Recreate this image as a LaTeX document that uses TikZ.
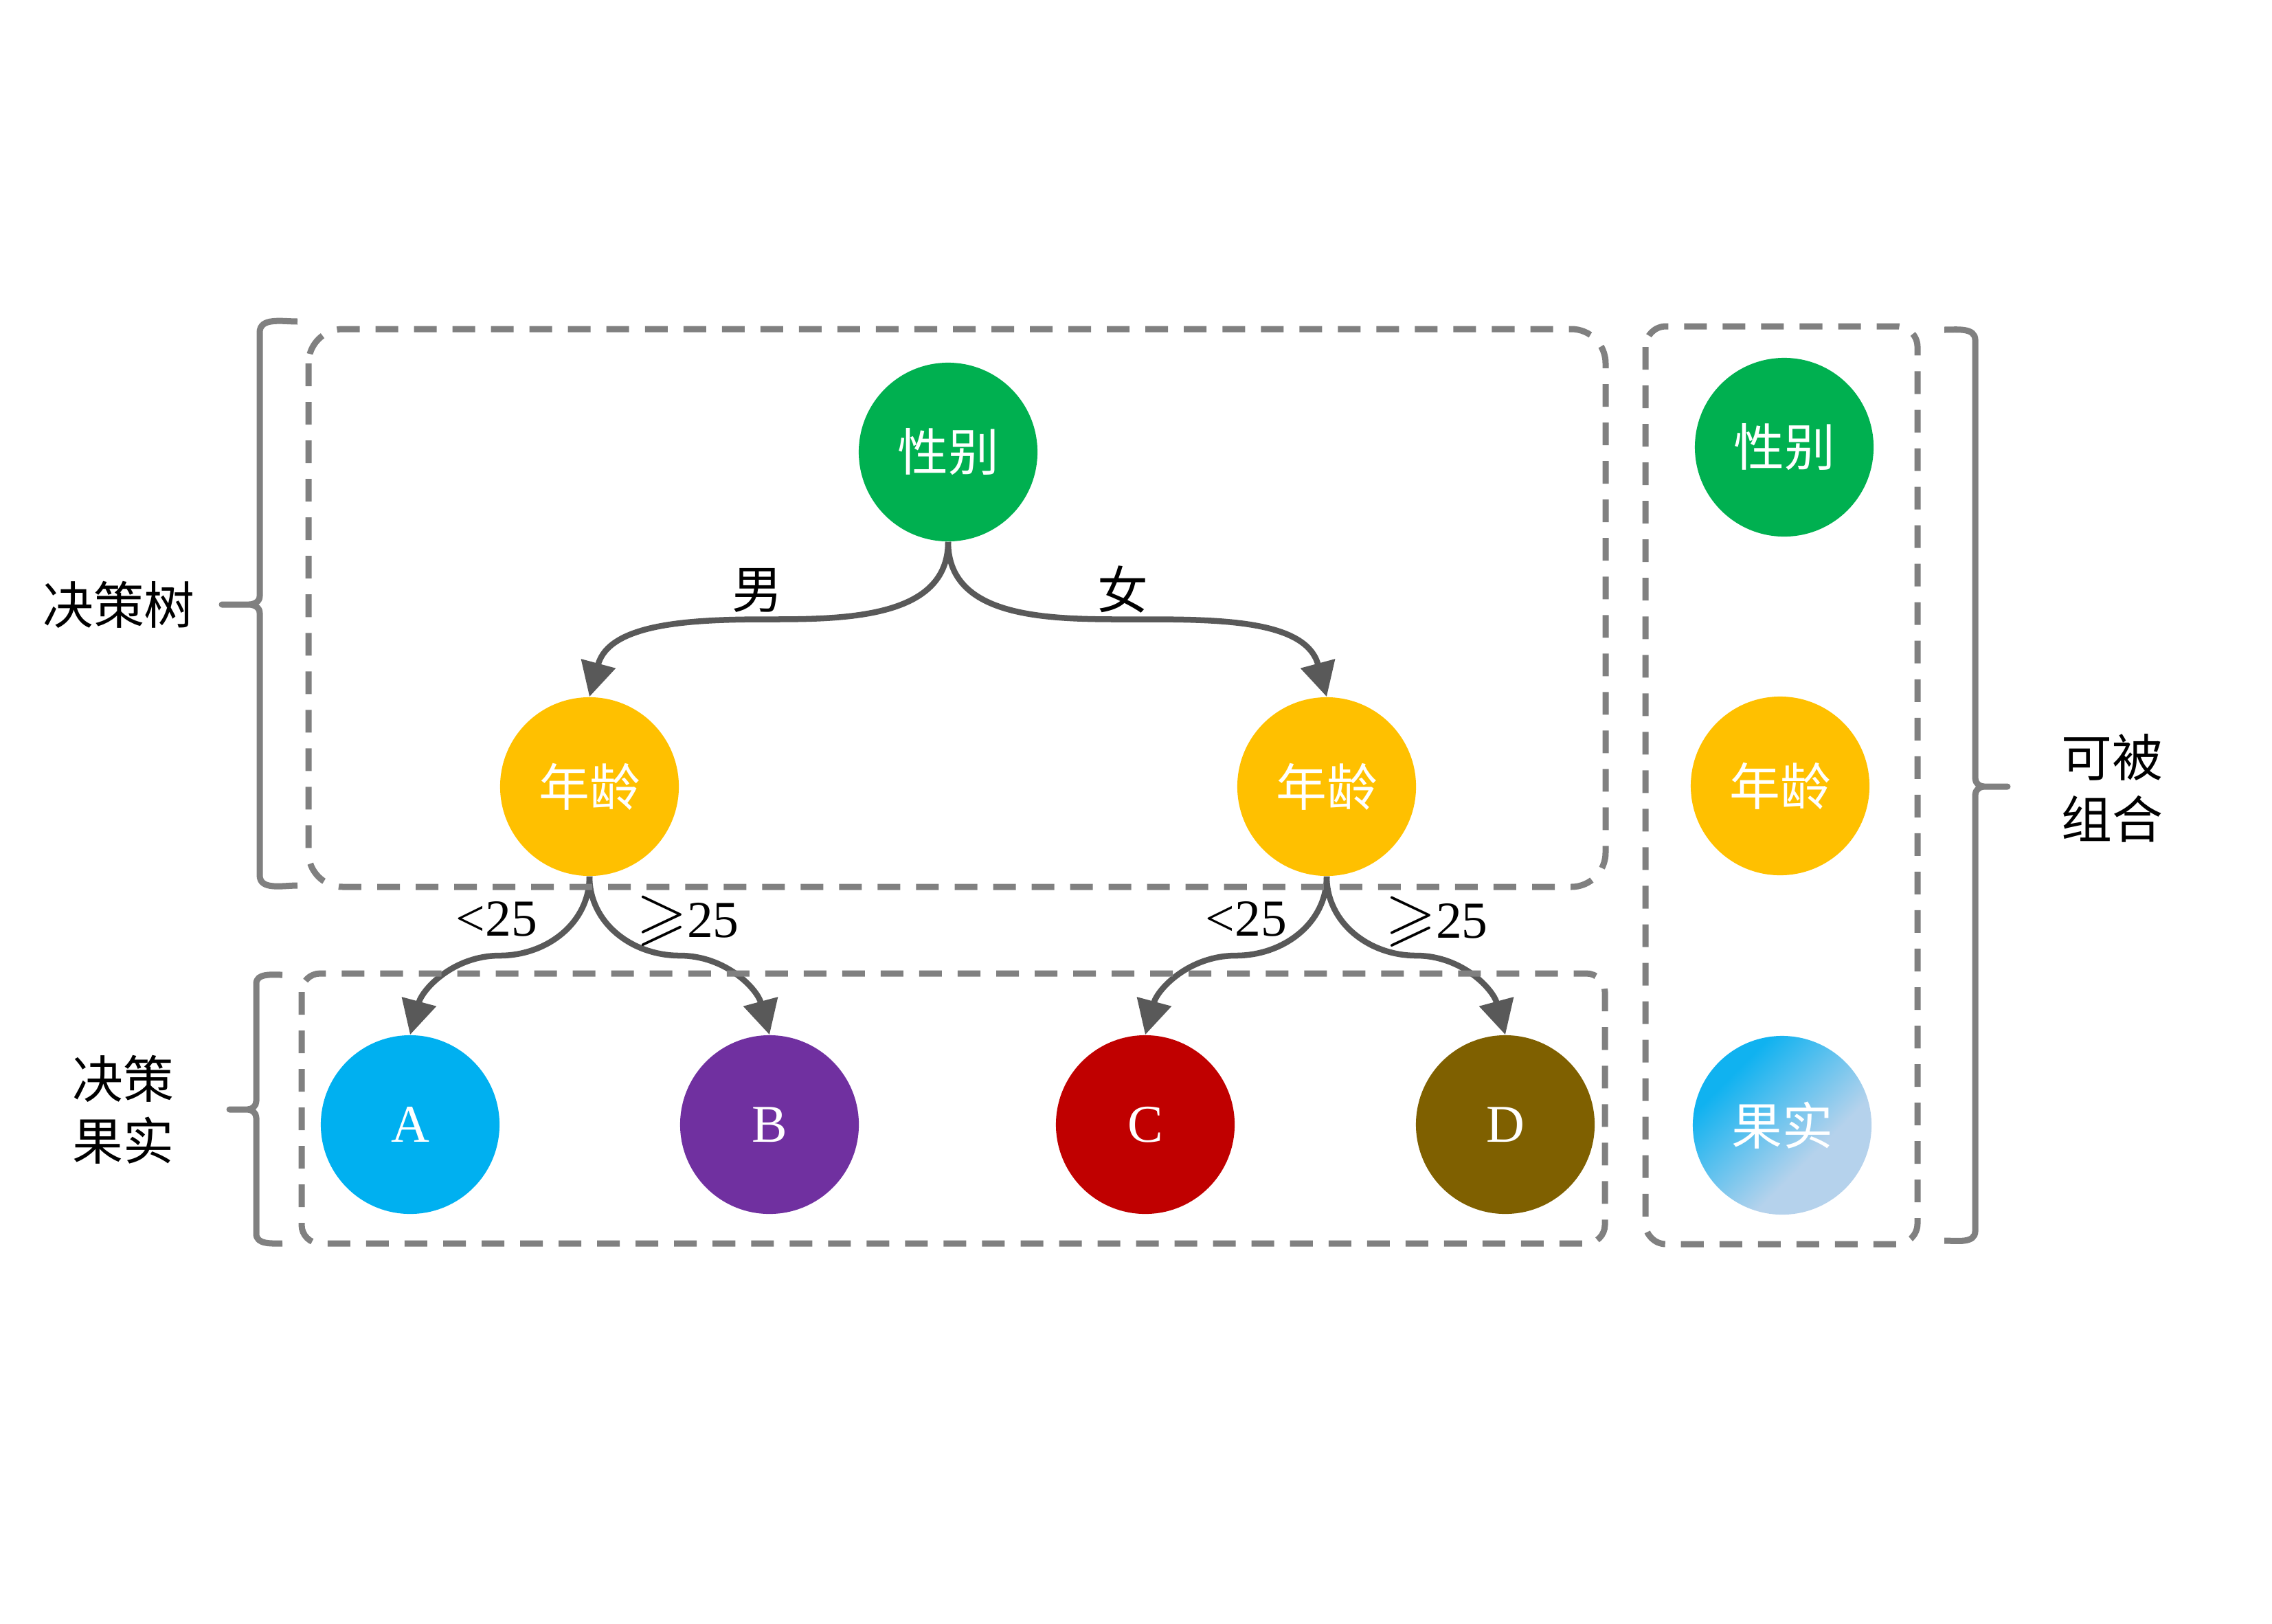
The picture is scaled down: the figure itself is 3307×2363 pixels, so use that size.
\documentclass[tikz,border=0pt]{standalone}
\usepackage{fontspec}
\usepackage{amssymb}
\setmainfont{Liberation Serif}
\newfontfamily\cjk{Noto Sans CJK SC}
\usetikzlibrary{arrows.meta,calc}

\definecolor{cgreen}{HTML}{00B050}
\definecolor{cyellow}{HTML}{FFC000}
\definecolor{ccyan}{HTML}{00B0F0}
\definecolor{cpurple}{HTML}{7030A0}
\definecolor{cred}{HTML}{C00000}
\definecolor{cbrown}{HTML}{7F6000}
\definecolor{cfruitA}{HTML}{10B2F0}
\definecolor{cfruitB}{HTML}{B5D2EC}
\definecolor{cframe}{HTML}{808080}
\definecolor{cedge}{HTML}{595959}

% diagonal fill of the fruit ball: light from the lower right, cyan to the upper left
\pgfdeclareverticalshading{fruitfill}{100bp}{%
  color(0bp)=(cfruitB); color(38bp)=(cfruitB);
  color(70bp)=(cfruitA); color(100bp)=(cfruitA)}

\newcommand{\geqs}{{\fontsize{27pt}{30pt}\selectfont$\geqslant$}}

\begin{document}
\begin{tikzpicture}[x=0.01cm,y=-0.01cm,
  ball/.style={circle,minimum size=2.6cm,inner sep=0pt,text=white,
    font=\cjk\fontsize{21pt}{25pt}\selectfont},
  leaf/.style={circle,minimum size=2.6cm,inner sep=0pt,text=white,
    font=\fontsize{22pt}{26pt}\selectfont},
  arr/.style={draw=cedge,line width=0.085cm,
    -{Triangle[length=0.5cm,width=0.5cm]}},
  dbox/.style={draw=cframe,line width=0.09cm,dash pattern=on 0.33cm off 0.23cm},
  brc/.style={draw=cframe,line width=0.09cm,line join=round},
  cnlabel/.style={inner sep=0pt,font=\cjk\fontsize{21pt}{25.6pt}\selectfont,align=center},
  numlabel/.style={inner sep=0pt,font=\fontsize{21.5pt}{26pt}\selectfont},
]
\useasboundingbox (0,0) rectangle (3307,2363);

% decision tree
\node[ball,fill=cgreen]  (sex)  at (1380,658)  {性别};
\node[ball,fill=cyellow] (ageL) at (858,1145)  {年龄};
\node[ball,fill=cyellow] (ageR) at (1931,1145) {年龄};

% leaves
\node[leaf,fill=ccyan]   (A) at (597,1637)  {A};
\node[leaf,fill=cpurple] (B) at (1120,1637) {B};
\node[leaf,fill=cred]    (C) at (1667,1637) {C};
\node[leaf,fill=cbrown]  (D) at (2191,1637) {D};

% building blocks
\node[ball,fill=cgreen]  (sexK)   at (2597,651)  {性别};
\node[ball,fill=cyellow] (ageK)   at (2591,1144) {年龄};
\node[ball,shade,shading=fruitfill,shading angle=45] (fruitK) at (2594,1638) {果实};

% branches
\draw[arr] (sex.south) to[out=-90,in=0] ($(sex.south)!0.5!(ageL.north)$)
  to[out=180,in=75] (ageL.north);
\draw[arr] (sex.south) to[out=-90,in=180] ($(sex.south)!0.5!(ageR.north)$)
  to[out=0,in=105] (ageR.north);
\draw[arr] (ageL.south) to[out=-90,in=0] ($(ageL.south)!0.5!(A.north)$)
  to[out=180,in=75] (A.north);
\draw[arr] (ageL.south) to[out=-90,in=180] ($(ageL.south)!0.5!(B.north)$)
  to[out=0,in=105] (B.north);
\draw[arr] (ageR.south) to[out=-90,in=0] ($(ageR.south)!0.5!(C.north)$)
  to[out=180,in=75] (C.north);
\draw[arr] (ageR.south) to[out=-90,in=180] ($(ageR.south)!0.5!(D.north)$)
  to[out=0,in=105] (D.north);

% branch labels
\node[cnlabel]  (lm)  at (1102,859)  {男};
\node[cnlabel]  (lf)  at (1634,858)  {女};
\node[numlabel] (l1)  at (723,1338)  {<25};
\node[numlabel] (l2)  at (1001,1341) {\geqs25};
\node[numlabel] (l3)  at (1814,1338) {<25};
\node[numlabel] (l4)  at (2091,1342) {\geqs25};

% dashed groups
\draw[dbox,rounded corners=0.5cm]  (449,479)  rectangle (2337,1291);
\draw[dbox,rounded corners=0.27cm] (439,1417) rectangle (2336,1810);
\draw[dbox,rounded corners=0.3cm]  (2395,475) rectangle (2791,1811);

% braces
\draw[brc] (433,468) to[out=180,in=90] (378,484) -- (378,868)
  to[out=-90,in=0] (362,880) -- (323,880) -- (362,880)
  to[out=0,in=90] (378,892) -- (378,1274) to[out=-90,in=180] (433,1289);
\draw[brc] (411,1419) to[out=180,in=90] (373,1432) -- (373,1603)
  to[out=-90,in=0] (360,1615) -- (334,1615) -- (360,1615)
  to[out=0,in=90] (373,1627) -- (373,1796) to[out=-90,in=180] (411,1810);
\draw[brc] (2830,480) to[out=0,in=90] (2875,495) -- (2875,1133)
  to[out=-90,in=180] (2888,1145) -- (2922,1145) -- (2888,1145)
  to[out=180,in=90] (2875,1157) -- (2875,1792) to[out=-90,in=0] (2830,1806);

% group captions
\node[cnlabel] (tTree)  at (173,880)   {决策树};
\node[cnlabel] (tFruit) at (179,1615)  {决策\\果实};
\node[cnlabel] (tComb)  at (3074,1147) {可被\\组合};
\end{tikzpicture}
\end{document}
